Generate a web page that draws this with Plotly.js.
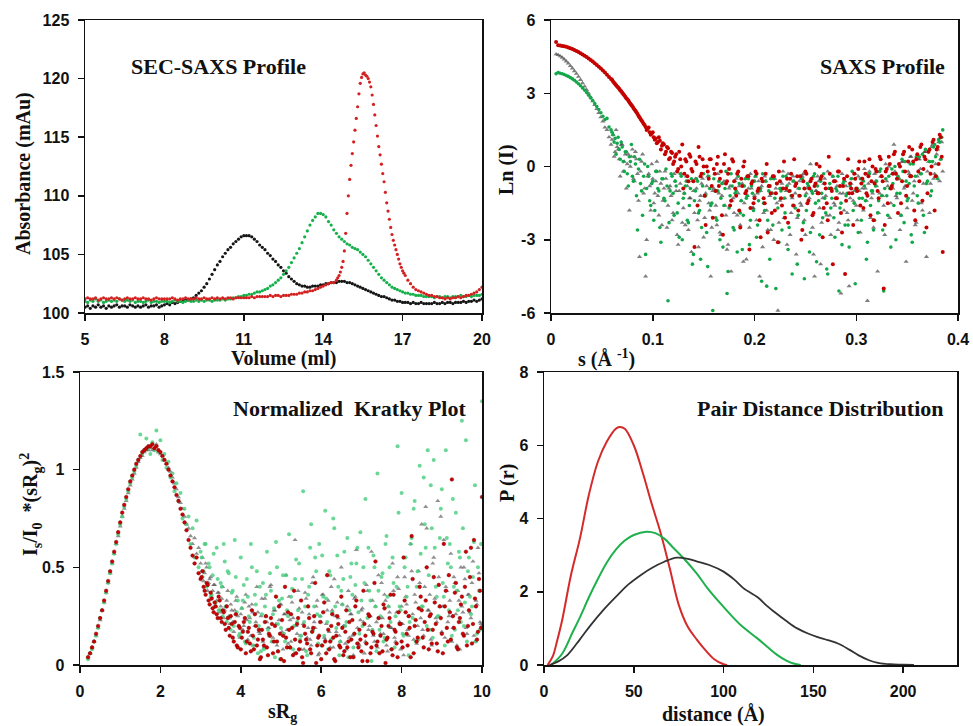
<!DOCTYPE html>
<html><head><meta charset="utf-8">
<script src="https://cdn.plot.ly/plotly-3.0.1.min.js"></script>
<style>html,body{margin:0;padding:0;background:#fff}#chart{width:973px;height:726px}</style>
</head><body><div id="chart"></div>
<script>
// ---------- Panel 1: SEC-SAXS profile ----------
const volume = [5.0,5.1,5.2,5.3,5.4,5.5,5.6,5.7,5.8,5.9,6.0,6.1,6.2,6.3,6.4,6.5,6.6,6.7,6.8,6.9,
7.0,7.1,7.2,7.3,7.4,7.5,7.6,7.7,7.8,7.9,8.0,8.1,8.2,8.3,8.4,8.5,8.6,8.7,8.8,8.9,
9.0,9.1,9.2,9.3,9.4,9.5,9.6,9.7,9.8,9.9,10.0,10.1,10.2,10.3,10.4,10.5,10.6,10.7,10.8,10.9,
11.0,11.1,11.2,11.3,11.4,11.5,11.6,11.7,11.8,11.9,12.0,12.1,12.2,12.3,12.4,12.5,12.6,12.7,12.8,12.9,
13.0,13.1,13.2,13.3,13.4,13.5,13.6,13.7,13.8,13.9,14.0,14.1,14.2,14.3,14.4,14.5,14.6,14.7,14.8,14.9,
15.0,15.1,15.2,15.3,15.4,15.5,15.6,15.7,15.8,15.9,16.0,16.1,16.2,16.3,16.4,16.5,16.6,16.7,16.8,16.9,
17.0,17.1,17.2,17.3,17.4,17.5,17.6,17.7,17.8,17.9,18.0,18.1,18.2,18.3,18.4,18.5,18.6,18.7,18.8,18.9,
19.0,19.1,19.2,19.3,19.4,19.5,19.6,19.7,19.8,19.9,20.0];
const absBlack = [100.5,100.6,100.4,100.6,100.5,100.7,100.5,100.6,100.4,100.6,100.5,
100.6,100.7,100.5,100.6,100.6,100.5,100.7,100.6,100.5,100.6,
100.5,100.6,100.7,100.5,100.6,100.6,100.7,100.5,100.6,100.7,
100.8,100.7,100.9,100.8,100.9,101.0,101.0,101.1,101.1,101.2,
101.3,101.5,101.7,101.9,102.2,102.5,102.9,103.3,103.7,104.1,
104.4,104.8,105.1,105.4,105.6,105.9,106.1,106.3,106.5,106.6,
106.6,106.6,106.5,106.3,106.1,105.8,105.6,105.4,105.1,104.9,
104.6,104.4,104.1,103.9,103.6,103.4,103.1,102.9,102.7,102.5,
102.4,102.3,102.3,102.2,102.2,102.3,102.3,102.3,102.4,102.4,
102.5,102.5,102.6,102.6,102.6,102.7,102.7,102.7,102.6,102.6,
102.5,102.4,102.3,102.2,102.1,102.0,101.9,101.8,101.7,101.6,
101.5,101.4,101.4,101.3,101.2,101.1,101.1,101.0,101.0,100.9,
100.9,100.9,100.8,100.9,100.8,100.8,100.9,100.8,100.8,100.8,
100.8,100.9,100.8,100.8,100.9,100.8,100.9,100.9,100.8,100.9,
100.9,100.9,101.0,100.9,101.0,101.0,101.1,101.0,101.1,101.2];
const absGreen = [101.0,100.9,101.1,101.0,101.2,101.0,101.1,100.9,101.0,101.1,101.0,
101.1,101.0,101.2,101.1,101.0,101.1,101.0,101.1,100.9,101.0,
101.0,100.9,101.0,101.1,100.9,101.0,101.0,100.9,101.0,101.0,
101.0,100.9,101.0,101.1,101.0,101.0,100.9,101.0,101.1,101.0,
101.0,101.1,101.0,101.1,101.0,101.1,101.1,101.0,101.1,101.1,
101.1,101.2,101.1,101.2,101.2,101.3,101.3,101.4,101.4,101.5,
101.5,101.6,101.6,101.7,101.8,101.8,101.9,102.0,102.1,102.3,
102.4,102.6,102.8,103.0,103.3,103.6,103.9,104.3,104.7,105.1,
105.5,106.0,106.5,107.0,107.5,107.9,108.2,108.5,108.5,108.4,
108.2,107.8,107.5,107.1,106.8,106.5,106.3,106.1,105.9,105.8,
105.6,105.5,105.4,105.2,105.0,104.8,104.5,104.2,103.9,103.6,
103.3,103.0,102.8,102.6,102.4,102.2,102.1,102.0,101.9,101.8,
101.7,101.7,101.6,101.6,101.5,101.5,101.5,101.4,101.4,101.4,
101.4,101.3,101.4,101.4,101.3,101.4,101.4,101.3,101.4,101.4,
101.4,101.5,101.4,101.4,101.5,101.4,101.5,101.5,101.5,101.6];
const absRed = [101.2,101.3,101.2,101.2,101.3,101.1,101.2,101.3,101.2,101.2,101.3,
101.2,101.3,101.2,101.1,101.2,101.3,101.2,101.2,101.3,101.2,
101.2,101.3,101.2,101.2,101.1,101.2,101.3,101.2,101.2,101.2,
101.2,101.2,101.3,101.2,101.1,101.2,101.2,101.3,101.2,101.2,
101.2,101.3,101.2,101.2,101.3,101.2,101.2,101.3,101.2,101.3,
101.2,101.3,101.2,101.3,101.3,101.2,101.3,101.3,101.3,101.3,
101.3,101.3,101.4,101.3,101.4,101.4,101.4,101.4,101.4,101.5,
101.4,101.5,101.5,101.4,101.5,101.5,101.5,101.6,101.6,101.6,
101.7,101.7,101.8,101.8,101.9,101.9,102.0,102.1,102.2,102.3,
102.4,102.5,102.6,102.6,102.8,103.2,103.9,105.3,108.5,111.4,
113.6,115.6,117.6,119.6,120.4,120.3,120.0,119.3,117.8,116.0,
114.2,112.7,111.2,109.4,108.0,106.7,105.8,105.0,104.2,103.6,
103.2,102.8,102.5,102.2,102.0,101.9,101.8,101.7,101.6,101.5,
101.5,101.4,101.4,101.3,101.3,101.2,101.3,101.2,101.3,101.3,
101.4,101.3,101.4,101.5,101.5,101.6,101.7,101.8,102.0,102.2];
const volumePeakRed = [14.55,14.65,14.75,14.85,14.95,15.05,15.15,15.25,15.35,15.45,15.55,15.65,15.75,
15.85,15.95,16.05,16.15,16.25,16.35,16.45,16.55,16.65,16.75,16.85,16.95,17.05];
const absPeakRed = [103.0,103.5,104.4,106.8,110.0,112.6,114.6,116.6,118.7,120.1,120.5,120.2,119.7,
118.6,116.9,115.1,113.5,111.9,110.3,108.7,107.3,106.2,105.4,104.6,103.9,103.4];

// ---------- Panel 2: SAXS profile ----------
const sValues = [0.005,0.007,0.009,0.011,0.013,0.015,0.017,0.019,0.021,0.023,
0.025,0.027,0.029,0.031,0.033,0.035,0.037,0.039,0.041,0.043,
0.045,0.047,0.049,0.051,0.053,0.055,0.057,0.059,0.061,0.063,
0.065,0.067,0.069,0.071,0.073,0.075,0.077,0.079,0.081,0.083,
0.085,0.087,0.089,0.091,0.093,0.095,0.097,0.099,0.101,0.103,
0.105,0.107,0.109,0.111,0.113,0.115,0.117,0.119,0.121,0.123,
0.125,0.127,0.129,0.131,0.133,0.135,0.137,0.139,0.141,0.143,
0.145,0.147,0.149,0.151,0.153,0.155,0.157,0.159,0.161,0.163,
0.165,0.167,0.169,0.171,0.173,0.175,0.177,0.179,0.181,0.183,
0.185,0.187,0.189,0.191,0.193,0.195,0.197,0.199,0.201,0.203,
0.205,0.207,0.209,0.211,0.213,0.215,0.217,0.219,0.221,0.223,
0.225,0.227,0.229,0.231,0.233,0.235,0.237,0.239,0.241,0.243,
0.245,0.247,0.249,0.251,0.253,0.255,0.257,0.259,0.261,0.263,
0.265,0.267,0.269,0.271,0.273,0.275,0.277,0.279,0.281,0.283,
0.285,0.287,0.289,0.291,0.293,0.295,0.297,0.299,0.301,0.303,
0.305,0.307,0.309,0.311,0.313,0.315,0.317,0.319,0.321,0.323,
0.325,0.327,0.329,0.331,0.333,0.335,0.337,0.339,0.341,0.343,
0.345,0.347,0.349,0.351,0.353,0.355,0.357,0.359,0.361,0.363,
0.365,0.367,0.369,0.371,0.373,0.375,0.377,0.379,0.381,0.383,
0.385];
const lnIRed = [5.10,4.97,4.96,4.94,4.92,4.90,4.87,4.84,4.81,4.77,
4.73,4.69,4.64,4.59,4.54,4.48,4.42,4.36,4.30,4.23,
4.16,4.09,4.01,3.93,3.85,3.76,3.67,3.58,3.48,3.38,
3.28,3.18,3.08,2.97,2.86,2.75,2.63,2.52,2.40,2.28,
2.15,2.02,1.88,1.75,1.62,1.55,1.40,1.35,1.20,1.15,
1.00,1.05,0.85,0.90,0.60,0.75,0.35,0.55,0.20,0.50,
-0.1,0.3,0.9,-0.3,0.2,-0.6,0.4,-0.2,-3.3,0.1,
0.8,-0.4,0.3,-1.2,0.0,-0.5,0.3,-2.1,-0.3,0.1,
-0.8,-0.2,-2.8,0.5,-0.6,-0.1,-1.4,0.2,-0.9,-0.3,
-1.8,-0.5,0.0,-1.1,-0.4,-3.4,-0.7,-1.5,-0.2,-1.0,
-2.2,-0.5,-1.3,-0.3,-2.7,-0.8,-1.9,-0.4,-1.1,-3.1,
-0.6,-1.6,0.2,-0.9,-2.3,-0.5,-1.2,0.3,-0.7,-1.8,
-0.4,-2.6,-0.9,-0.3,-1.4,-0.6,-2.0,-0.8,0.1,-1.1,
-0.5,-2.9,-0.7,-1.5,0.4,-0.9,-4.0,-0.6,-1.3,-0.2,
-1.9,-0.8,-4.4,-0.4,-1.1,-0.9,-2.4,-0.5,-1.0,0.2,
-0.7,-1.7,-0.3,-1.2,0.3,-0.6,-2.2,-0.1,-1.0,0.4,
-0.4,-5.0,-0.2,-1.5,0.1,-0.8,0.5,-0.3,-1.9,0.0,
-0.6,0.6,-1.2,0.2,-0.4,0.7,-1.8,0.3,-0.2,0.8,
-1.4,0.4,-2.5,0.6,-0.3,1.0,-1.8,0.7,0.1,1.2,
-3.5];
const lnIBlack = [4.60,4.57,4.52,4.46,4.39,4.31,4.22,4.12,4.02,3.91,
3.80,3.68,3.55,3.42,3.28,3.14,2.99,2.84,2.68,2.52,
2.36,2.20,2.02,1.85,1.6,1.5,1.2,0.9,1.3,0.6,
0.8,0.3,0.9,-0.2,0.5,0.1,-1.8,0.4,-0.5,0.6,
-0.3,-3.7,0.2,-1.1,-4.5,-0.4,-0.8,0.1,-1.5,-0.6,
-1.2,-0.2,-2.4,-0.9,-0.5,-1.6,-0.8,-2.2,-0.3,-1.0,
-3.2,-0.7,-2.3,-1.1,-0.4,-2.6,-1.3,-0.6,-1.9,-0.9,
-3.3,-1.2,-0.5,-2.1,-0.8,-1.5,-4.5,-1.0,-0.3,-2.4,
-1.1,-2.8,-0.7,-1.6,-3.4,-0.9,-4.3,-1.3,-0.6,-2.0,
-0.8,-1.4,-3.9,-0.5,-1.2,-2.5,-0.9,-1.7,-0.4,-1.1,
-4.5,-0.8,-1.9,-0.6,-2.6,-1.2,-0.5,-3.0,-0.9,-5.9,
-1.4,-0.7,-2.1,-1.0,-0.3,-2.8,-1.3,-0.6,-3.6,-0.9,
-1.5,-0.4,-2.2,-1.1,-0.8,0.1,-2.5,-4.5,-1.0,-0.6,
-4.0,-1.3,-0.5,-2.0,-0.9,-2.8,-0.4,-1.6,-0.8,-2.3,
-5.2,-1.1,-0.6,-1.9,-4.9,-0.7,-1.4,-0.3,-2.2,-1.0,
-0.5,-1.8,-0.9,-5.5,-0.2,-1.3,-2.5,-0.6,-4.3,-1.1,
-0.4,-1.6,0.1,-0.8,-2.1,-0.3,0.9,-1.2,-0.5,-2.6,
0.2,-0.9,-3.9,-0.2,0.4,-1.4,-0.6,-2.3,0.3,-0.1,
-1.8,0.6,-3.7,0.2,-0.7,0.9,-0.3,0.5,1.0,0.3,
-0.2];
const lnIGreen = [3.80,3.85,3.82,3.80,3.77,3.73,3.69,3.64,3.59,3.53,
3.46,3.39,3.31,3.22,3.13,3.03,2.92,2.81,2.70,2.58,
2.46,2.33,2.20,2.06,1.92,1.97,1.62,1.50,1.30,1.15,
0.95,0.7,1.0,0.2,0.6,-0.3,0.4,0.9,-0.6,0.1,
-2.6,0.3,-1.0,-0.4,-3.6,0.0,-1.4,-0.7,-2.2,-0.2,
-0.9,-2.5,-0.5,-1.3,-0.1,-5.5,-1.0,-0.4,-2.0,-0.8,
-1.5,-0.3,-3.0,-1.1,-0.6,-2.3,-0.9,-4.0,-1.4,-0.5,
-1.9,-3.8,-0.8,-1.2,-2.7,-0.4,-1.6,-5.9,-1.0,-2.2,
-0.6,-1.3,-3.3,-0.9,-5.2,-1.7,-0.3,-2.5,-1.1,-3.5,
-0.7,-1.4,-2.0,-0.5,-1.2,-3.2,-0.8,-1.8,-0.4,-2.4,
-1.0,-4.7,-1.5,-0.6,-2.2,-3.8,-1.1,-0.5,-5.0,-1.7,
-0.9,-2.6,-1.3,-0.4,-3.4,-1.0,-4.4,-1.6,-0.7,-2.0,
-1.2,-0.5,-4.6,-1.8,-0.8,-2.7,-1.1,-0.3,-3.9,-1.4,
-0.6,-2.1,-1.3,-4.2,-0.9,-1.7,-0.4,-2.9,-1.0,-5.1,
-1.5,-0.7,-2.4,-1.1,-3.3,-0.5,-1.8,-4.8,-0.9,-1.3,
-2.2,-0.6,-1.4,-3.1,-0.3,-1.0,-2.6,-0.8,-1.9,-0.2,
-1.2,-5.1,-0.5,-2.0,-0.9,-0.1,-1.6,-3.0,-0.4,-1.1,
0.3,-2.3,-0.6,-1.3,0.1,-3.1,-0.8,0.4,-1.5,-0.3,
0.5,-2.7,-0.7,0.6,-1.2,0.2,0.9,-0.4,1.1,0.3,
1.5];
// second, interleaved set of s points (0.060 - 0.384)
const sValuesB = [0.060,0.062,0.064,0.066,0.068,0.070,0.072,0.074,0.076,0.078,
0.080,0.082,0.084,0.086,0.088,0.090,0.092,0.094,0.096,0.098,
0.100,0.102,0.104,0.106,0.108,0.110,0.112,0.114,0.116,0.118,
0.120,0.122,0.124,0.126,0.128,0.130,0.132,0.134,0.136,0.138,
0.140,0.142,0.144,0.146,0.148,0.150,0.152,0.154,0.156,0.158,
0.160,0.162,0.164,0.166,0.168,0.170,0.172,0.174,0.176,0.178,
0.180,0.182,0.184,0.186,0.188,0.190,0.192,0.194,0.196,0.198,
0.200,0.202,0.204,0.206,0.208,0.210,0.212,0.214,0.216,0.218,
0.220,0.222,0.224,0.226,0.228,0.230,0.232,0.234,0.236,0.238,
0.240,0.242,0.244,0.246,0.248,0.250,0.252,0.254,0.256,0.258,
0.260,0.262,0.264,0.266,0.268,0.270,0.272,0.274,0.276,0.278,
0.280,0.282,0.284,0.286,0.288,0.290,0.292,0.294,0.296,0.298,
0.300,0.302,0.304,0.306,0.308,0.310,0.312,0.314,0.316,0.318,
0.320,0.322,0.324,0.326,0.328,0.330,0.332,0.334,0.336,0.338,
0.340,0.342,0.344,0.346,0.348,0.350,0.352,0.354,0.356,0.358,
0.360,0.362,0.364,0.366,0.368,0.370,0.372,0.374,0.376,0.378,
0.380,0.382,0.384];
const lnIRedB = [3.55,3.43,3.33,3.24,3.12,3.02,2.92,2.80,2.70,2.57,
2.47,2.33,2.22,2.08,1.95,1.82,1.7,1.5,1.6,1.3,
1.4,1.1,0.95,1.2,0.7,0.95,0.5,0.8,0.3,0.6,
0.1,0.4,-0.2,0.6,0.0,-0.9,0.3,-0.4,0.5,-0.1,
-0.6,0.2,-1.6,0.4,-0.3,0.0,-2.4,-0.2,0.3,-0.8,
-0.1,-1.0,0.4,-0.5,-2.0,0.1,-0.7,-0.3,-1.6,0.3,
-0.6,-1.2,-0.2,-2.5,-0.8,0.2,-1.0,-0.4,-1.7,-0.6,
-1.3,-0.3,-0.9,-2.9,-0.6,-1.5,0.1,-0.8,-1.1,-0.4,
-1.8,-0.7,-0.2,-1.3,-0.9,-2.1,-0.5,-1.0,-0.3,-1.6,
-0.8,-0.4,-1.2,-3.0,-0.6,-0.2,-1.5,-0.9,-0.5,-1.9,
-0.7,-1.1,0.0,-0.4,-1.7,-0.9,-2.2,-0.3,-1.0,-0.6,
-1.3,-0.2,-0.8,-2.7,-0.5,-1.4,0.3,-0.7,-1.1,-0.3,
-0.9,-0.1,-1.6,-0.5,0.2,-1.1,-0.4,-2.0,0.0,-0.7,
-0.2,-1.3,0.3,-0.6,-2.4,-0.1,0.4,-0.9,-0.3,0.6,
-0.5,0.1,-1.5,0.5,-0.2,-0.8,0.8,-0.4,0.2,-2.2,
0.5,-0.6,0.9,-0.1,0.3,-1.1,0.7,0.0,1.1,-0.4,
0.8,1.3,0.4];
const lnIBlackB = [1.1,0.4,1.5,0.7,-0.4,0.9,0.2,-0.9,0.5,0.0,
0.7,-0.6,0.3,-1.4,-0.2,0.5,-0.9,-3.0,-0.3,-1.8,
-0.5,-1.1,0.2,-2.0,-0.7,-1.4,-0.2,-2.5,-0.9,-1.2,
-1.9,-0.6,-2.8,-1.0,-0.3,-1.7,-2.4,-0.8,-1.3,-3.5,
-1.0,-0.5,-2.2,-1.4,-0.7,-2.9,-1.1,-0.4,-1.8,-2.5,
-0.9,-1.6,-0.3,-2.7,-1.2,-0.6,-2.0,-3.2,-0.8,-1.4,
-1.9,-0.5,-1.1,-2.4,-0.7,-1.5,-3.8,-0.9,-0.3,-1.7,
-1.2,-2.2,-0.6,-1.0,-3.3,-0.4,-1.8,-0.8,-2.6,-1.1,
-0.5,-1.5,-2.3,-0.9,-0.2,-1.3,-3.2,-0.7,-1.9,-0.4,
-1.1,-2.1,-0.6,-1.6,-0.3,-2.8,-0.9,-1.3,-0.5,-3.6,
-1.0,-0.4,-1.7,-2.3,-0.7,-1.2,-0.2,-2.0,-0.9,-1.5,
-0.6,-2.6,-1.1,-0.3,-1.8,-0.8,-2.2,-1.3,-0.5,-1.0,
-1.6,-0.4,-2.7,-0.9,-0.1,-1.4,-0.7,-2.1,-1.1,-0.3,
-0.8,-1.9,-0.4,-1.2,-2.8,-0.6,0.0,-1.5,-0.9,-0.2,
-1.3,-0.5,-2.0,0.2,-0.8,-1.7,-0.3,0.4,-1.1,-2.4,
-0.4,0.3,-1.5,-0.7,0.6,-0.2,-1.9,0.8,-0.5,0.1,
0.7,-0.6,1.0];
const lnIGreenB = [1.4,1.0,0.5,1.2,0.3,0.8,-0.2,0.6,-0.8,0.2,
-0.4,0.4,-1.2,-0.1,-0.7,-2.0,0.1,-0.9,-0.4,-1.6,
-0.6,-1.8,-0.2,-1.0,-3.1,-0.5,-1.4,-0.8,-2.3,-0.3,
-1.1,-0.6,-1.9,-2.9,-0.4,-1.3,-0.8,-2.2,-1.6,-0.5,
-3.6,-1.0,-0.6,-1.8,-2.5,-0.3,-1.2,-4.1,-0.9,-1.5,
-0.5,-2.1,-1.0,-3.0,-0.7,-1.6,-0.2,-4.3,-1.2,-0.8,
-2.6,-1.0,-0.4,-1.9,-3.4,-0.8,-1.3,-0.5,-2.2,-1.1,
-0.6,-2.9,-1.4,-0.9,-0.3,-1.8,-4.9,-1.0,-0.5,-2.4,
-1.3,-0.7,-3.1,-1.0,-0.4,-1.9,-0.8,-2.5,-1.2,-0.6,
-1.7,-4.0,-0.9,-0.5,-2.3,-1.2,-0.7,-3.5,-1.0,-0.4,
-1.5,-0.8,-2.8,-1.1,-0.3,-1.9,-4.4,-0.7,-1.3,-2.1,
-0.9,-0.4,-1.7,-3.2,-0.6,-1.2,-2.4,-0.8,-0.2,-1.5,
-1.0,-2.7,-0.5,-1.3,-0.8,-3.8,-0.3,-1.6,-1.0,-2.2,
-0.6,-1.4,-0.1,-2.6,-0.9,-1.2,-0.4,-3.3,-0.7,0.0,
-1.1,-0.5,-2.0,-0.2,0.2,-1.4,-0.7,-2.8,0.1,-0.4,
-1.2,0.4,-0.3,-2.0,0.7,-0.6,0.2,-1.0,0.8,0.4,
-0.5,1.0,1.2];

// ---------- Panel 3: Normalized Kratky plot ----------
const sRg = [0.20,0.25,0.30,0.35,0.40,0.45,0.50,0.55,0.60,0.65,
0.70,0.75,0.80,0.85,0.90,0.95,1.00,1.05,1.10,1.15,
1.20,1.25,1.30,1.35,1.40,1.45,1.50,1.55,1.60,1.65,
1.70,1.75,1.80,1.85,1.90,1.95,2.00,2.05,2.10,2.15,
2.20,2.25,2.30,2.35,2.40,2.45,2.50,2.55,2.60,2.65,
2.70,2.75,2.80,2.85,2.90,2.95,3.00,3.05,3.10,3.15,
3.20,3.25,3.30,3.35,3.40,3.45,3.50,3.55,3.60,3.65,
3.70,3.75,3.80,3.85,3.90,3.95,4.00,4.05,4.10,4.15,
4.20,4.25,4.30,4.35,4.40,4.45,4.50,4.55,4.60,4.65,
4.70,4.75,4.80,4.85,4.90,4.95,5.00,5.05,5.10,5.15,
5.20,5.25,5.30,5.35,5.40,5.45,5.50,5.55,5.60,5.65,
5.70,5.75,5.80,5.85,5.90,5.95,6.00,6.05,6.10,6.15,
6.20,6.25,6.30,6.35,6.40,6.45,6.50,6.55,6.60,6.65,
6.70,6.75,6.80,6.85,6.90,6.95,7.00,7.05,7.10,7.15,
7.20,7.25,7.30,7.35,7.40,7.45,7.50,7.55,7.60,7.65,
7.70,7.75,7.80,7.85,7.90,7.95,8.00,8.05,8.10,8.15,
8.20,8.25,8.30,8.35,8.40,8.45,8.50,8.55,8.60,8.65,
8.70,8.75,8.80,8.85,8.90,8.95,9.00,9.05,9.10,9.15,
9.20,9.25,9.30,9.35,9.40,9.45,9.50,9.55,9.60,9.65,
9.70,9.75,9.80,9.85,9.90,9.95,10.00];
const kratkyRed = [0.04,0.06,0.09,0.12,0.16,0.20,0.24,0.28,0.33,0.38,
0.43,0.48,0.53,0.58,0.63,0.68,0.73,0.78,0.82,0.86,
0.90,0.94,0.97,1.00,1.03,1.05,1.07,1.09,1.10,1.11,
1.12,1.12,1.13,1.11,1.12,1.10,1.09,1.07,1.05,1.03,
1.00,0.97,0.94,0.91,0.87,0.84,0.80,0.77,0.73,0.69,
0.64,0.60,0.56,0.52,0.55,0.47,0.44,0.48,0.38,0.42,
0.33,0.37,0.29,0.32,0.26,0.35,0.24,0.28,0.21,0.30,
0.19,0.25,0.14,0.22,0.10,0.20,0.08,0.17,0.24,0.12,
0.19,0.07,0.15,0.26,0.10,0.18,0.04,0.13,0.22,0.09,
0.16,0.24,0.06,0.20,0.12,0.30,0.03,0.15,0.40,0.09,
0.18,0.26,0.05,0.13,0.21,0.08,0.33,0.01,0.16,0.11,
0.24,0.06,0.19,0.42,0.10,0.15,0.03,0.27,0.12,0.46,
0.08,0.20,0.14,0.02,0.25,0.10,0.35,0.05,0.17,0.09,
0.22,0.13,0.04,0.30,0.11,0.18,0.07,0.38,0.15,0.02,
0.25,0.09,0.16,0.53,0.12,0.06,0.20,0.31,0.01,0.14,
0.24,0.08,0.36,0.17,0.04,0.21,0.12,0.55,0.27,0.10,
0.19,0.66,0.06,0.23,0.14,0.40,0.28,0.09,0.33,0.18,
0.25,0.11,0.45,0.21,0.07,0.30,0.16,0.62,0.38,0.12,
0.27,0.95,0.19,0.42,0.08,0.24,0.35,0.15,0.58,0.20,
0.45,0.11,0.64,0.30,0.17,0.38,0.86];
const kratkyGreen = [0.03,0.06,0.08,0.12,0.15,0.19,0.24,0.28,0.32,0.37,
0.42,0.47,0.52,0.57,0.62,0.67,0.72,0.76,0.81,0.85,
0.89,0.93,0.96,0.99,1.02,1.05,1.18,1.08,1.10,1.16,
1.11,1.08,1.14,1.10,1.20,1.09,1.15,1.05,1.08,1.01,
1.04,0.96,0.98,0.89,0.93,0.84,0.88,0.75,0.80,0.72,
0.76,0.62,0.70,0.55,0.74,0.50,0.58,0.45,0.62,0.40,
0.52,0.35,0.46,0.30,0.60,0.28,0.42,0.25,0.53,0.22,
0.47,0.18,0.38,0.64,0.27,0.15,0.55,0.33,0.12,0.44,
0.25,0.62,0.10,0.36,0.48,0.20,0.07,0.42,0.30,0.58,
0.15,0.38,0.26,0.04,0.50,0.33,0.19,0.46,0.12,0.28,
0.67,0.35,0.08,0.44,0.22,0.52,0.15,0.89,0.30,0.05,
0.40,0.72,0.18,0.55,0.26,0.62,0.10,0.35,0.79,0.22,
0.48,0.13,0.75,0.30,0.56,0.05,0.38,0.44,0.20,0.65,
0.28,0.52,0.09,0.41,0.60,0.16,0.33,0.50,0.85,0.24,
0.38,0.02,0.56,0.30,0.98,0.18,0.45,0.12,0.62,0.35,
0.50,0.08,0.42,0.25,1.12,0.30,0.88,0.15,0.55,0.40,
0.22,0.65,0.80,0.12,0.48,1.02,0.30,0.96,0.60,1.10,
0.18,0.70,1.05,0.40,0.25,0.65,0.90,0.35,1.10,0.52,
0.62,0.15,0.40,0.78,0.28,0.55,1.25,0.20,1.15,0.48,
0.35,0.30,0.63,0.12,0.50,0.18,1.35];
const kratkyBlack = [0.04,0.06,0.09,0.12,0.15,0.19,0.23,0.28,0.32,0.37,
0.42,0.47,0.52,0.57,0.62,0.66,0.71,0.76,0.80,0.84,
0.88,0.92,0.95,0.98,1.01,1.04,1.06,1.07,1.09,1.10,
1.10,1.11,1.10,1.10,1.13,1.09,1.08,1.07,1.05,1.03,
1.01,0.99,0.96,0.93,0.90,0.86,0.83,0.80,0.76,0.72,
0.70,0.66,0.62,0.65,0.57,0.60,0.52,0.55,0.47,0.50,
0.42,0.45,0.38,0.41,0.33,0.37,0.30,0.40,0.28,0.33,
0.25,0.31,0.22,0.28,0.35,0.20,0.26,0.18,0.32,0.23,
0.30,0.15,0.27,0.20,0.40,0.17,0.25,0.12,0.34,0.22,
0.19,0.41,0.14,0.28,0.10,0.23,0.31,0.08,0.26,0.18,
0.35,0.12,0.24,0.64,0.16,0.29,0.08,0.21,0.37,0.14,
0.26,0.10,0.45,0.19,0.33,0.06,0.22,0.36,0.13,0.28,
0.17,0.40,0.09,0.25,0.32,0.15,0.50,0.20,0.11,0.30,
0.14,0.26,0.05,0.35,0.19,0.10,0.28,0.22,0.12,0.38,
0.20,0.58,0.15,0.30,0.09,0.24,0.42,0.16,0.33,0.07,
0.27,0.19,0.38,0.12,0.45,0.22,0.30,0.05,0.35,0.18,
0.25,0.48,0.13,0.32,0.20,0.42,0.72,0.15,0.81,0.28,
0.36,0.10,0.55,0.24,0.84,0.30,0.17,0.64,0.40,0.22,
0.33,0.12,0.45,0.26,0.38,0.08,0.30,0.50,0.19,0.36,
0.27,0.42,0.15,0.33,0.60,0.22,0.20];
// second, interleaved set of sRg points (3.025 - 9.975)
const sRgB = [3.025,3.075,3.125,3.175,3.225,3.275,3.325,3.375,3.425,3.475,
3.525,3.575,3.625,3.675,3.725,3.775,3.825,3.875,3.925,3.975,
4.025,4.075,4.125,4.175,4.225,4.275,4.325,4.375,4.425,4.475,
4.525,4.575,4.625,4.675,4.725,4.775,4.825,4.875,4.925,4.975,
5.025,5.075,5.125,5.175,5.225,5.275,5.325,5.375,5.425,5.475,
5.525,5.575,5.625,5.675,5.725,5.775,5.825,5.875,5.925,5.975,
6.025,6.075,6.125,6.175,6.225,6.275,6.325,6.375,6.425,6.475,
6.525,6.575,6.625,6.675,6.725,6.775,6.825,6.875,6.925,6.975,
7.025,7.075,7.125,7.175,7.225,7.275,7.325,7.375,7.425,7.475,
7.525,7.575,7.625,7.675,7.725,7.775,7.825,7.875,7.925,7.975,
8.025,8.075,8.125,8.175,8.225,8.275,8.325,8.375,8.425,8.475,
8.525,8.575,8.625,8.675,8.725,8.775,8.825,8.875,8.925,8.975,
9.025,9.075,9.125,9.175,9.225,9.275,9.325,9.375,9.425,9.475,
9.525,9.575,9.625,9.675,9.725,9.775,9.825,9.875,9.925,9.975];
const kratkyRedB = [0.45,0.40,0.36,0.41,0.31,0.34,0.27,0.30,0.24,0.33,
0.22,0.27,0.18,0.24,0.15,0.21,0.12,0.26,0.09,0.19,
0.14,0.22,0.06,0.17,0.11,0.28,0.08,0.20,0.13,0.03,
0.18,0.10,0.25,0.05,0.15,0.21,0.12,0.35,0.07,0.16,
0.23,0.02,0.14,0.27,0.09,0.19,0.38,0.06,0.24,0.12,
0.04,0.20,0.13,0.30,0.08,0.17,0.25,0.01,0.14,0.22,
0.10,0.32,0.06,0.18,0.12,0.26,0.03,0.15,0.21,0.09,
0.19,0.07,0.28,0.12,0.04,0.23,0.16,0.33,0.09,0.13,
0.02,0.21,0.11,0.26,0.06,0.17,0.42,0.10,0.24,0.15,
0.07,0.29,0.13,0.20,0.36,0.05,0.18,0.11,0.27,0.21,
0.09,0.33,0.16,0.25,0.04,0.44,0.20,0.12,0.29,0.35,
0.14,0.22,0.50,0.08,0.26,0.18,0.32,0.11,0.41,0.24,
0.06,0.30,0.19,0.46,0.13,0.25,0.37,0.09,0.22,0.31,
0.16,0.40,0.10,0.28,0.60,0.21,0.34,0.13,0.44,0.19];
const kratkyGreenB = [0.55,0.48,0.62,0.41,0.50,0.36,0.57,0.32,0.44,0.28,
0.40,0.62,0.30,0.48,0.24,0.37,0.20,0.45,0.33,0.16,
0.29,0.41,0.11,0.35,0.22,0.50,0.14,0.31,0.06,0.40,
0.26,0.08,0.36,0.18,0.47,0.12,0.29,0.63,0.21,0.03,
0.34,0.16,0.46,0.25,0.09,0.39,0.20,0.54,0.28,0.13,
0.44,0.22,0.07,0.36,0.60,0.17,0.30,0.48,0.11,0.25,
0.56,0.15,0.34,0.08,0.46,0.27,0.70,0.19,0.40,0.12,
0.31,0.58,0.22,0.04,0.45,0.36,0.16,0.52,0.27,0.68,
0.20,0.42,0.11,0.60,0.33,0.18,0.50,0.07,0.38,0.25,
0.47,0.14,0.66,0.30,0.22,0.55,0.09,0.40,0.78,0.28,
0.16,0.50,0.35,0.05,0.62,0.24,0.84,0.40,0.13,0.57,
0.30,0.72,0.20,0.46,0.92,0.14,0.60,0.35,0.25,0.80,
0.42,0.10,0.65,0.28,0.50,0.85,0.18,0.38,0.58,0.22,
0.70,0.32,0.12,0.55,0.26,0.45,0.92,0.16,0.38,0.62];
const kratkyBlackB = [0.48,0.43,0.52,0.38,0.44,0.35,0.41,0.30,0.37,0.27,
0.34,0.24,0.30,0.38,0.21,0.28,0.17,0.33,0.25,0.14,
0.29,0.20,0.36,0.13,0.24,0.31,0.10,0.22,0.27,0.16,
0.34,0.09,0.25,0.19,0.40,0.12,0.28,0.21,0.07,0.31,
0.17,0.26,0.46,0.11,0.23,0.32,0.06,0.20,0.38,0.15,
0.27,0.08,0.34,0.19,0.13,0.42,0.22,0.30,0.05,0.25,
0.36,0.14,0.21,0.33,0.09,0.28,0.44,0.17,0.24,0.12,
0.31,0.20,0.08,0.38,0.26,0.15,0.34,0.59,0.11,0.23,
0.29,0.06,0.41,0.18,0.25,0.33,0.12,0.22,0.46,0.16,
0.24,0.36,0.10,0.30,0.19,0.52,0.14,0.27,0.39,0.08,
0.21,0.45,0.31,0.15,0.62,0.26,0.36,0.11,0.48,0.24,
0.18,0.40,0.70,0.28,0.13,0.52,0.34,0.22,0.45,0.76,
0.30,0.14,0.38,0.25,0.57,0.19,0.42,0.10,0.33,0.50,
0.27,0.44,0.16,0.36,0.24,0.53,0.12,0.31,0.47,0.21];

// ---------- Panel 4: Pair distance distribution ----------
const distRed = [2,5,7,10,15,20,25,30,35,40,42,45,50,55,60,65,70,75,80,85,90,95,100,102];
const prRed = [0,0.25,0.6,1.2,2.45,3.45,4.65,5.55,6.1,6.45,6.5,6.45,6.0,5.25,4.4,3.6,2.65,1.65,1.05,0.7,0.4,0.15,0.02,0];
const distGreen = [4,10,16,20,25,30,35,40,45,50,57,62,67,72,78,85,91,97,104,110,119,125,130,135,139,143];
const prGreen = [0,0.3,0.9,1.3,1.85,2.35,2.8,3.15,3.4,3.55,3.64,3.6,3.45,3.2,2.9,2.5,2.1,1.75,1.37,1.07,0.72,0.47,0.27,0.12,0.04,0];
const distBlack = [3,8,13,20,26,33,41,47,54,60,67,74,80,85,92,100,106,111,119,124,128,135,141,147,152,158,164,170,175,181,186,193,200,206];
const prBlack = [0,0.1,0.27,0.7,1.09,1.5,1.91,2.2,2.46,2.65,2.82,2.93,2.9,2.83,2.73,2.55,2.33,2.1,1.85,1.62,1.46,1.2,1.0,0.86,0.77,0.68,0.58,0.42,0.27,0.13,0.06,0.02,0.01,0];

// ---------- Tick positions and labels ----------
const secTicks = [5,8,11,14,17,20];
const secTickText = ['5','8','11','14','17','20'];
const absTicks = [100,105,110,115,120,125];
const absTickText = ['100','105','110','115','120','125'];
const sTicks = [0,0.1,0.2,0.3,0.4];
const sTickText = ['0','0.1','0.2','0.3','0.4'];
const lnTicks = [-6,-3,0,3,6];
const lnTickText = ['-6','-3','0','3','6'];
const sRgTicks = [0,2,4,6,8,10];
const sRgTickText = ['0','2','4','6','8','10'];
const kratkyTicks = [0,0.5,1,1.5];
const kratkyTickText = ['0','0.5','1','1.5'];
const distTicks = [0,50,100,150,200];
const distTickText = ['0','50','100','150','200'];
const prTicks = [0,2,4,6,8];
const prTickText = ['0','2','4','6','8'];

const bold = arr => arr.map(t => '<b>' + t + '</b>');
const tickFont = {family:'"Liberation Sans", Arial, sans-serif', size:16, color:'#111'};
function ax(vals, texts, extra){
  return Object.assign({showline:true, mirror:true, linecolor:'#111', linewidth:1.5,
    ticks:'outside', ticklen:6, tickwidth:1.5, tickcolor:'#111', tickmode:'array',
    tickvals:vals, ticktext:bold(texts),
    showgrid:false, zeroline:false, tickfont:tickFont, ticklabelstandoff:5, fixedrange:true}, extra);
}

const traces = [
  {x:volume, y:absBlack, xaxis:'x', yaxis:'y', type:'scatter', mode:'markers', marker:{size:3.2, color:'#151515'}},
  {x:volume, y:absGreen, xaxis:'x', yaxis:'y', type:'scatter', mode:'markers', marker:{size:3.2, color:'#16b04a'}},
  {x:volume.concat(volumePeakRed), y:absRed.concat(absPeakRed), xaxis:'x', yaxis:'y', type:'scatter', mode:'markers', marker:{size:3.2, color:'#d42020'}},

  {x:sValues.concat(sValuesB), y:lnIBlack.concat(lnIBlackB), xaxis:'x2', yaxis:'y2', type:'scatter', mode:'markers', marker:{size:4.5, symbol:'triangle-up', color:'rgba(55,55,55,0.65)'}},
  {x:sValues.concat(sValuesB), y:lnIGreen.concat(lnIGreenB), xaxis:'x2', yaxis:'y2', type:'scatter', mode:'markers', marker:{size:3.6, color:'#12a84a'}},
  {x:sValues.concat(sValuesB), y:lnIRed.concat(lnIRedB), xaxis:'x2', yaxis:'y2', type:'scatter', mode:'markers', marker:{size:4, color:'#c40000'}},

  {x:sRg.concat(sRgB), y:kratkyBlack.concat(kratkyBlackB), xaxis:'x3', yaxis:'y3', type:'scatter', mode:'markers', marker:{size:4.5, symbol:'triangle-up', color:'rgba(70,70,70,0.6)'}},
  {x:sRg.concat(sRgB), y:kratkyGreen.concat(kratkyGreenB), xaxis:'x3', yaxis:'y3', type:'scatter', mode:'markers', marker:{size:4, color:'rgba(70,205,125,0.8)'}},
  {x:sRg.concat(sRgB), y:kratkyRed.concat(kratkyRedB), xaxis:'x3', yaxis:'y3', type:'scatter', mode:'markers', marker:{size:3.6, color:'#d00000', line:{color:'#7a0000', width:0.5}}},

  {x:distRed, y:prRed, xaxis:'x4', yaxis:'y4', type:'scatter', mode:'lines', line:{color:'#d42a2a', width:2, shape:'spline'}},
  {x:distGreen, y:prGreen, xaxis:'x4', yaxis:'y4', type:'scatter', mode:'lines', line:{color:'#1fb04c', width:2, shape:'spline'}},
  {x:distBlack, y:prBlack, xaxis:'x4', yaxis:'y4', type:'scatter', mode:'lines', line:{color:'#333333', width:1.8, shape:'spline'}}
];

const W = 973, H = 726;
const px = v => v / W;
const py = v => 1 - v / H;
const serif = {family:'"Liberation Serif", "Times New Roman", serif', size:20, color:'#111'};
const serifBig = {family:'"Liberation Serif", "Times New Roman", serif', size:22, color:'#111'};

function lbl(text, x, y, opts){
  return Object.assign({text:'<b>'+text+'</b>', xref:'paper', yref:'paper', x:px(x), y:py(y),
    showarrow:false, font:serif, xanchor:'center', yanchor:'middle'}, opts || {});
}

const layout = {
  width:W, height:H, margin:{l:0, r:0, t:0, b:0},
  paper_bgcolor:'#fff', plot_bgcolor:'#fff', showlegend:false, hovermode:false,
  xaxis: ax(secTicks, secTickText, {domain:[px(85), px(482)], range:[5,20], anchor:'y'}),
  yaxis: ax(absTicks, absTickText, {domain:[py(313), py(20)], range:[100,125], anchor:'x'}),
  xaxis2: ax(sTicks, sTickText, {domain:[px(551), px(958)], range:[0,0.4], anchor:'y2'}),
  yaxis2: ax(lnTicks, lnTickText, {domain:[py(313), py(20)], range:[-6,6], anchor:'x2'}),
  xaxis3: ax(sRgTicks, sRgTickText, {domain:[px(80), px(482)], range:[0,10], anchor:'y3'}),
  yaxis3: ax(kratkyTicks, kratkyTickText, {domain:[py(665), py(372)], range:[0,1.5], anchor:'x3'}),
  xaxis4: ax(distTicks, distTickText, {domain:[px(544), px(957)], range:[0,230], anchor:'y4'}),
  yaxis4: ax(prTicks, prTickText, {domain:[py(665), py(372)], range:[0,8], anchor:'x4'}),
  annotations: [
    lbl('SEC-SAXS Profile', 218, 66, {font:serifBig}),
    lbl('SAXS Profile', 947, 66, {xanchor:'right', font:serifBig}),
    lbl('Normalized\u00a0 Kratky Plot', 468, 408, {xanchor:'right', font:serifBig}),
    lbl('Pair Distance Distribution', 945, 408, {xanchor:'right', font:serifBig}),
    lbl('Volume (ml)', 283, 359),
    lbl('s (Å <sup>-1</sup>)', 606, 358),
    lbl('sR<sub>g</sub>', 282, 712),
    lbl('distance (Å)', 713, 714),
    lbl('Absorbance (mAu)', 24, 174, {textangle:-90}),
    lbl('Ln (I)', 507, 169, {textangle:-90}),
    lbl('I<sub>s</sub>/I<sub>0</sub>\u00a0 *(sR<sub>g</sub>)<sup>2</sup>', 31, 505, {textangle:-90}),
    lbl('P (r)', 507, 483, {textangle:-90})
  ]
};

Plotly.newPlot('chart', traces, layout, {displayModeBar:false, staticPlot:true});
</script>
</body></html>
